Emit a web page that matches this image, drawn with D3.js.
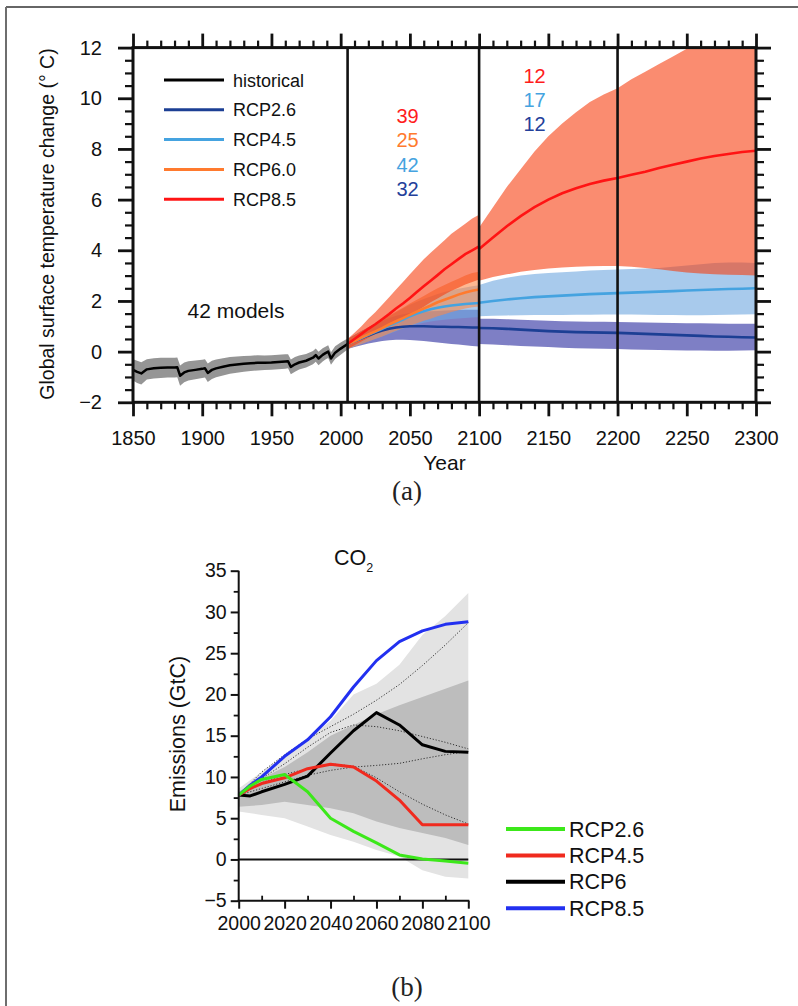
<!DOCTYPE html>
<html><head><meta charset="utf-8">
<script src="https://cdn.jsdelivr.net/npm/d3@7"></script>
<style>body{margin:0;background:#fff;} svg{display:block;} text{font-family:"Liberation Sans",Arial,Helvetica,sans-serif;} text.serif{font-family:"Liberation Serif","Times New Roman",serif;}</style>
</head><body><svg id="c" width="798" height="1006"></svg>
<script>
// ---------- Panel (a) data ----------
const histYears = [1850,1853,1856,1860,1865,1870,1875,1880,1882,1884,1887,1890,1895,1900,1902,1904,1907,1910,1915,1920,1925,1930,1935,1940,1945,1950,1955,1960,1962,1964,1967,1970,1975,1980,1982,1984,1987,1989,1991,1993,1996,2000,2005];
const histMean = [-0.72,-0.8,-0.86,-0.7,-0.66,-0.64,-0.63,-0.63,-0.62,-0.95,-0.82,-0.76,-0.72,-0.68,-0.66,-0.84,-0.72,-0.66,-0.6,-0.54,-0.51,-0.48,-0.46,-0.44,-0.44,-0.43,-0.41,-0.39,-0.38,-0.6,-0.5,-0.43,-0.36,-0.24,-0.14,-0.27,-0.13,-0.06,0.0,-0.27,-0.04,0.12,0.3];
const histHigh = [-0.3,-0.36,-0.42,-0.3,-0.26,-0.24,-0.24,-0.24,-0.23,-0.55,-0.43,-0.38,-0.35,-0.32,-0.3,-0.47,-0.36,-0.31,-0.26,-0.21,-0.19,-0.17,-0.16,-0.14,-0.15,-0.14,-0.12,-0.1,-0.1,-0.31,-0.21,-0.15,-0.09,0.02,0.12,0.0,0.13,0.19,0.25,-0.02,0.21,0.36,0.52];
const histLow = [-1.14,-1.24,-1.3,-1.1,-1.06,-1.04,-1.02,-1.02,-1.01,-1.35,-1.21,-1.14,-1.09,-1.04,-1.02,-1.2,-1.08,-1.01,-0.94,-0.87,-0.83,-0.79,-0.76,-0.74,-0.73,-0.72,-0.7,-0.68,-0.66,-0.89,-0.79,-0.71,-0.63,-0.5,-0.4,-0.54,-0.39,-0.31,-0.25,-0.52,-0.29,-0.12,0.08];

const preYears = [2005,2010,2015,2020,2025,2030,2035,2040,2045,2050,2055,2060,2065,2070,2075,2080,2085,2090,2095,2100];
const rcp26PreMean = [0.3,0.42,0.53,0.64,0.74,0.83,0.9,0.95,0.98,1.0,1.0,1.0,0.99,0.98,0.98,0.97,0.97,0.96,0.95,0.95];
const rcp26PreLow  = [0.1,0.18,0.25,0.32,0.37,0.42,0.45,0.47,0.47,0.46,0.44,0.42,0.39,0.36,0.33,0.3,0.28,0.25,0.22,0.2];
const rcp26PreHigh = [0.5,0.66,0.81,0.96,1.1,1.22,1.33,1.42,1.48,1.52,1.55,1.57,1.59,1.6,1.62,1.63,1.64,1.65,1.65,1.65];
const rcp45PreMean = [0.3,0.42,0.54,0.66,0.78,0.9,1.03,1.15,1.27,1.4,1.5,1.59,1.67,1.73,1.78,1.82,1.85,1.88,1.9,1.92];
const rcp45PreLow  = [0.1,0.2,0.3,0.4,0.5,0.6,0.7,0.8,0.9,1.0,1.08,1.14,1.19,1.23,1.26,1.29,1.31,1.33,1.35,1.36];
const rcp45PreHigh = [0.5,0.65,0.8,0.95,1.1,1.25,1.4,1.55,1.7,1.85,1.97,2.08,2.18,2.27,2.35,2.42,2.48,2.53,2.58,2.62];
const rcp60PreMean = [0.3,0.42,0.55,0.68,0.8,0.93,1.07,1.2,1.32,1.45,1.58,1.7,1.82,1.95,2.05,2.15,2.25,2.33,2.4,2.45];
const rcp60PreLow  = [0.1,0.2,0.3,0.4,0.5,0.6,0.72,0.82,0.92,1.02,1.12,1.22,1.3,1.4,1.48,1.56,1.63,1.7,1.75,1.78];
const rcp60PreHigh = [0.5,0.65,0.8,0.95,1.1,1.25,1.42,1.58,1.73,1.9,2.05,2.2,2.35,2.5,2.63,2.76,2.88,3.0,3.1,3.15];
const rcp85PreMean = [0.3,0.5,0.7,0.9,1.08,1.28,1.48,1.7,1.9,2.12,2.35,2.58,2.8,3.02,3.25,3.45,3.65,3.85,4.0,4.15];
const rcp85PreLow  = [0.1,0.25,0.4,0.55,0.7,0.85,1.0,1.15,1.3,1.45,1.6,1.77,1.95,2.1,2.25,2.4,2.52,2.65,2.75,2.85];
const rcp85PreHigh = [0.5,0.75,1.0,1.3,1.55,1.85,2.15,2.45,2.75,3.05,3.35,3.65,3.9,4.15,4.4,4.65,4.85,5.05,5.25,5.4];

const postYears = [2100,2110,2120,2130,2140,2150,2160,2170,2180,2190,2200,2210,2220,2230,2240,2250,2260,2270,2280,2290,2300];
const rcp26PostMean = [0.93,0.92,0.9,0.87,0.84,0.81,0.79,0.77,0.76,0.75,0.74,0.72,0.7,0.68,0.66,0.64,0.62,0.6,0.59,0.57,0.56];
const rcp26PostLow  = [0.3,0.28,0.25,0.22,0.2,0.18,0.15,0.13,0.12,0.11,0.1,0.08,0.07,0.06,0.05,0.04,0.04,0.03,0.03,0.04,0.05];
const rcp26PostHigh = [1.3,1.3,1.28,1.26,1.24,1.22,1.2,1.19,1.18,1.18,1.17,1.16,1.15,1.14,1.13,1.12,1.12,1.11,1.1,1.1,1.1];
const rcp45PostMean = [1.93,2.0,2.06,2.11,2.15,2.18,2.21,2.24,2.27,2.29,2.31,2.33,2.35,2.37,2.39,2.41,2.43,2.45,2.47,2.48,2.5];
const rcp45PostLow  = [1.4,1.42,1.43,1.44,1.45,1.45,1.45,1.46,1.46,1.47,1.47,1.47,1.46,1.45,1.45,1.44,1.44,1.45,1.46,1.47,1.48];
const rcp45PostHigh = [2.63,2.8,2.92,3.0,3.06,3.1,3.13,3.16,3.2,3.22,3.24,3.26,3.28,3.3,3.35,3.4,3.45,3.5,3.52,3.52,3.5];
const rcp85PostMean = [4.05,4.5,4.95,5.35,5.7,6.0,6.25,6.45,6.62,6.75,6.85,6.98,7.1,7.25,7.38,7.5,7.62,7.72,7.8,7.88,7.93];
const rcp85PostLow  = [2.8,2.95,3.05,3.15,3.22,3.28,3.32,3.35,3.37,3.38,3.38,3.35,3.3,3.25,3.18,3.12,3.08,3.05,3.03,3.02,3.0];
const rcp85PostHigh = [4.9,5.7,6.5,7.2,7.9,8.5,9.0,9.45,9.85,10.15,10.4,10.75,11.05,11.35,11.65,11.95,12.2,12.4,12.6,12.8,12.95];

const legendA = ["historical","RCP2.6","RCP4.5","RCP6.0","RCP8.5"];
const legendAColors = ["#000000","#1c3f94","#45a3e0","#ff7a2e","#ff1414"];
const countsNear = ["39","25","42","32"];
const countsNearColors = ["#ff1c1c","#ff7a2e","#45a3e0","#23409a"];
const countsFar = ["12","17","12"];
const countsFarColors = ["#ff1c1c","#45a3e0","#23409a"];
const xTicksA = [1850,1900,1950,2000,2050,2100,2150,2200,2250,2300];
const yTicksA = [-2,0,2,4,6,8,10,12];
const dividerYears = [2005,2100,2200];

// ---------- Panel (b) data ----------
const emYears = [2000,2005,2010,2020,2030,2040,2050,2060,2070,2080,2090,2100];
const em26 = [7.8,8.9,9.7,10.3,8.2,5.0,3.4,2.0,0.55,0.05,-0.2,-0.45];
const em45 = [7.8,8.6,9.2,9.9,11.0,11.55,11.2,9.5,7.2,4.2,4.2,4.2];
const em60 = [7.8,7.7,8.2,9.1,10.1,12.9,15.6,17.8,16.3,13.9,13.1,13.0];
const em85 = [7.8,9.0,10.0,12.5,14.5,17.3,20.9,24.1,26.4,27.7,28.5,28.8];
const bandYears = [2000,2010,2020,2030,2040,2050,2060,2070,2080,2090,2100];
const lightHigh = [8.6,10.6,12.6,14.6,16.8,20.0,21.3,23.6,27.2,29.5,32.3];
const lightLow  = [5.8,5.4,5.0,4.0,2.95,2.15,1.15,0.35,-1.3,-2.1,-2.3];
const darkHigh  = [8.2,9.8,11.2,13.0,15.0,16.3,17.6,18.7,19.7,20.7,21.7];
const darkLow   = [6.4,6.6,7.0,6.6,6.2,5.6,4.6,3.8,3.2,2.6,1.75];
const dotA = [7.8,10.6,12.7,14.6,16.1,17.6,19.3,21.2,23.5,26.0,28.7];
const dotB = [7.8,9.8,11.6,13.6,15.4,16.3,16.1,15.6,14.9,14.2,13.4];
const dotC = [7.8,8.6,9.4,10.2,10.8,11.2,11.4,11.65,12.2,12.7,13.1];
const dotD = [7.8,9.3,10.3,11.0,11.6,11.3,9.9,8.2,6.7,5.4,4.3];
const legendB = ["RCP2.6","RCP4.5","RCP6","RCP8.5"];
const legendBColors = ["#3ce81a","#f02a1e","#000000","#2230f0"];
const xTicksB = [2000,2020,2040,2060,2080,2100];
const yTicksB = [-5,0,5,10,15,20,25,30,35];

// ---------- drawing ----------
const svg = d3.select("#c");

// outer frame
svg.append("line").attr("x1",6).attr("y1",7).attr("x2",798).attr("y2",7).attr("stroke","#333").attr("stroke-width",1.5);
svg.append("line").attr("x1",6).attr("y1",7).attr("x2",6).attr("y2",1006).attr("stroke","#6e6e6e").attr("stroke-width",2);

// ===== Panel (a) =====
const x1 = d3.scaleLinear().domain([1850,2300]).range([133,756]);
const y1 = d3.scaleLinear().domain([-2,12]).range([402.3,47.6]);
const A = svg.append("g");
A.append("clipPath").attr("id","clipA").append("rect")
  .attr("x",x1(1850)).attr("y",y1(12)).attr("width",x1(2300)-x1(1850)).attr("height",y1(-2)-y1(12));
const plotA = A.append("g").attr("clip-path","url(#clipA)");

const zip = (yrs, lo, hi, mid) => yrs.map((yr,i)=>({yr, lo:lo[i], hi:hi[i], m: mid?mid[i]:null}));
const areaA = d3.area().x(d=>x1(d.yr)).y0(d=>y1(d.lo)).y1(d=>y1(d.hi));
const lineA = d3.line().x(d=>x1(d.yr)).y(d=>y1(d.m));

// historical
const hist = zip(histYears, histLow, histHigh, histMean);
plotA.append("path").datum(hist).attr("d",areaA).attr("fill","#959595");

const bands = [
  {pre: zip(preYears, rcp26PreLow, rcp26PreHigh, rcp26PreMean), post: zip(postYears, rcp26PostLow, rcp26PostHigh, rcp26PostMean), fill:"rgb(40,42,158)", line:legendAColors[1]},
  {pre: zip(preYears, rcp45PreLow, rcp45PreHigh, rcp45PreMean), post: zip(postYears, rcp45PostLow, rcp45PostHigh, rcp45PostMean), fill:"rgb(110,167,223)", line:legendAColors[2]},
  {pre: zip(preYears, rcp60PreLow, rcp60PreHigh, rcp60PreMean), post: null, fill:"rgb(251,136,74)", line:legendAColors[3]},
  {pre: zip(preYears, rcp85PreLow, rcp85PreHigh, rcp85PreMean), post: zip(postYears, rcp85PostLow, rcp85PostHigh, rcp85PostMean), fill:"rgb(247,63,17)", line:legendAColors[4]}
];
bands.forEach(b=>{
  plotA.append("path").datum(b.pre).attr("d",areaA).attr("fill",b.fill).attr("fill-opacity",0.6);
  if (b.post) plotA.append("path").datum(b.post).attr("d",areaA).attr("fill",b.fill).attr("fill-opacity",0.6);
});
plotA.append("path").datum(hist).attr("d",lineA).attr("fill","none").attr("stroke","#000").attr("stroke-width",2.5).attr("stroke-linejoin","round");
bands.forEach(b=>{
  plotA.append("path").datum(b.pre).attr("d",lineA).attr("fill","none").attr("stroke",b.line).attr("stroke-width",2.6);
  if (b.post) plotA.append("path").datum(b.post).attr("d",lineA).attr("fill","none").attr("stroke",b.line).attr("stroke-width",2.6);
});

// dividers
A.selectAll("line.div").data(dividerYears).join("line")
  .attr("x1",d=>x1(d)).attr("x2",d=>x1(d)).attr("y1",y1(12)).attr("y2",y1(-2))
  .attr("stroke","#111").attr("stroke-width",2.6);

// frame
A.append("rect").attr("x",x1(1850)).attr("y",y1(12)).attr("width",x1(2300)-x1(1850)).attr("height",y1(-2)-y1(12))
  .attr("fill","none").attr("stroke","#111").attr("stroke-width",3);

// axes (major + minor on 4 sides)
function styleAxis(g, sw, fs){
  g.select(".domain").remove();
  g.selectAll(".tick line").attr("stroke","#111").attr("stroke-width",sw);
  g.selectAll(".tick text").attr("fill","#111").attr("font-size",fs);
}
const minorX = d3.range(1850,2301,10).filter(v=>v%50!==0);
const minorY = d3.range(-2,12.01,0.5).filter(v=>Math.abs(v%2)>0.01);
A.append("g").attr("transform",`translate(0,${y1(-2)})`)
  .call(d3.axisBottom(x1).tickValues(xTicksA).tickSize(14).tickPadding(15).tickFormat(d3.format("d")))
  .call(g=>styleAxis(g,2.8,20));
A.append("g").attr("transform",`translate(0,${y1(-2)})`)
  .call(d3.axisBottom(x1).tickValues(minorX).tickSize(7).tickFormat(""))
  .call(g=>styleAxis(g,2.2,20));
A.append("g").attr("transform",`translate(0,${y1(12)})`)
  .call(d3.axisTop(x1).tickValues(xTicksA).tickSize(14).tickFormat(""))
  .call(g=>styleAxis(g,2.8,20));
A.append("g").attr("transform",`translate(0,${y1(12)})`)
  .call(d3.axisTop(x1).tickValues(minorX).tickSize(7).tickFormat(""))
  .call(g=>styleAxis(g,2.2,20));
A.append("g").attr("transform",`translate(${x1(1850)},0)`)
  .call(d3.axisLeft(y1).tickValues(yTicksA).tickSize(15).tickPadding(16))
  .call(g=>styleAxis(g,2.8,20));
A.append("g").attr("transform",`translate(${x1(1850)},0)`)
  .call(d3.axisLeft(y1).tickValues(minorY).tickSize(8).tickFormat(""))
  .call(g=>styleAxis(g,2.2,20));
A.append("g").attr("transform",`translate(${x1(2300)},0)`)
  .call(d3.axisRight(y1).tickValues(yTicksA).tickSize(15).tickFormat(""))
  .call(g=>styleAxis(g,2.8,20));
A.append("g").attr("transform",`translate(${x1(2300)},0)`)
  .call(d3.axisRight(y1).tickValues(minorY).tickSize(8).tickFormat(""))
  .call(g=>styleAxis(g,2.2,20));

A.append("text").attr("x",(x1(1850)+x1(2300))/2).attr("y",470).attr("text-anchor","middle")
  .attr("font-size",21).attr("fill","#111").text("Year");
A.append("text").attr("transform","translate(54,224) rotate(-90)").attr("text-anchor","middle")
  .attr("font-size",19.5).attr("fill","#111").text("Global surface temperature change (° C)");

// legend a
const legA = A.append("g");
legendA.forEach((name,i)=>{
  const yy = 80 + i*29.8;
  legA.append("line").attr("x1",164).attr("x2",224).attr("y1",yy).attr("y2",yy).attr("stroke",legendAColors[i]).attr("stroke-width",3);
  legA.append("text").attr("x",233).attr("y",yy+6.5).attr("font-size",18).attr("fill","#111").text(name);
});
countsNear.forEach((t,i)=>{
  A.append("text").attr("x",407.5).attr("y",122.7+i*24.5).attr("text-anchor","middle").attr("font-size",20).attr("fill",countsNearColors[i]).text(t);
});
countsFar.forEach((t,i)=>{
  A.append("text").attr("x",534.5).attr("y",82.7+i*24.2).attr("text-anchor","middle").attr("font-size",20).attr("fill",countsFarColors[i]).text(t);
});
A.append("text").attr("x",236).attr("y",318).attr("text-anchor","middle").attr("font-size",21).attr("fill","#111").text("42 models");

svg.append("text").attr("class","serif").attr("x",407).attr("y",500).attr("text-anchor","middle")
  .attr("font-size",27).attr("fill","#222").text("(a)");

// ===== Panel (b) =====
const x2 = d3.scaleLinear().domain([2000,2100]).range([238.7,468.3]);
const y2 = d3.scaleLinear().domain([-5,35]).range([900.7,570.7]);
const B = svg.append("g");
const areaB = d3.area().x(d=>x2(d.yr)).y0(d=>y2(d.lo)).y1(d=>y2(d.hi));
const lineB = d3.line().x(d=>x2(d.yr)).y(d=>y2(d.v));
B.append("path").datum(zip(bandYears, lightLow, lightHigh)).attr("d",areaB).attr("fill","#e3e3e3");
B.append("path").datum(zip(bandYears, darkLow, darkHigh)).attr("d",areaB).attr("fill","#bdbdbd");
[dotA,dotB,dotC,dotD].forEach(arr=>{
  B.append("path").datum(bandYears.map((yr,i)=>({yr, v:arr[i]}))).attr("d",lineB)
    .attr("fill","none").attr("stroke","#333").attr("stroke-width",1).attr("stroke-dasharray","1.2,1.8");
});
B.append("line").attr("x1",x2(2000)).attr("x2",x2(2100)).attr("y1",y2(0)).attr("y2",y2(0)).attr("stroke","#111").attr("stroke-width",2);
const emSeries = [{v:em60,c:legendBColors[2]},{v:em45,c:legendBColors[1]},{v:em85,c:legendBColors[3]},{v:em26,c:legendBColors[0]}];
emSeries.forEach(s=>{
  B.append("path").datum(emYears.map((yr,i)=>({yr, v:s.v[i]}))).attr("d",lineB)
    .attr("fill","none").attr("stroke",s.c).attr("stroke-width",3).attr("stroke-linejoin","round");
});
// axes b
B.append("line").attr("x1",x2(2000)).attr("x2",x2(2000)).attr("y1",y2(35)).attr("y2",y2(-5)).attr("stroke","#111").attr("stroke-width",2);
B.append("line").attr("x1",x2(2000)-1).attr("x2",x2(2100)+1).attr("y1",y2(-5)).attr("y2",y2(-5)).attr("stroke","#111").attr("stroke-width",2);
B.append("g").attr("transform",`translate(${x2(2000)},0)`)
  .call(d3.axisLeft(y2).tickValues(yTicksB).tickSize(8).tickPadding(4))
  .call(g=>styleAxis(g,2,19.5));
B.append("g").attr("transform",`translate(${x2(2000)},0)`)
  .call(d3.axisLeft(y2).tickValues(d3.range(-2.5,35,5)).tickSize(5).tickFormat(""))
  .call(g=>styleAxis(g,1.8,19.5));
B.append("g").attr("transform",`translate(0,${y2(-5)})`)
  .call(d3.axisBottom(x2).tickValues(xTicksB).tickSize(8).tickPadding(7.5).tickFormat(d3.format("d")))
  .call(g=>styleAxis(g,2,19.5));
B.append("g").attr("transform",`translate(0,${y2(-5)})`)
  .call(d3.axisTop(x2).tickValues(d3.range(2010,2100,20)).tickSize(5).tickFormat(""))
  .call(g=>styleAxis(g,1.8,19.5));

const title = B.append("text").attr("x",353.5).attr("y",565).attr("text-anchor","middle").attr("font-size",21.5).attr("fill","#111");
title.append("tspan").text("CO");
title.append("tspan").attr("font-size",12.5).attr("dy",6.5).text("2");
B.append("text").attr("transform","translate(185,734) rotate(-90)").attr("text-anchor","middle")
  .attr("font-size",21.5).attr("fill","#111").text("Emissions (GtC)");

legendB.forEach((name,i)=>{
  const yy = 829 + i*26.4;
  B.append("line").attr("x1",506).attr("x2",565).attr("y1",yy).attr("y2",yy).attr("stroke",legendBColors[i]).attr("stroke-width",4);
  B.append("text").attr("x",569).attr("y",yy+7.6).attr("font-size",21.5).attr("fill","#111").text(name);
});

svg.append("text").attr("class","serif").attr("x",407).attr("y",996).attr("text-anchor","middle")
  .attr("font-size",27).attr("fill","#222").text("(b)");
</script></body></html>
